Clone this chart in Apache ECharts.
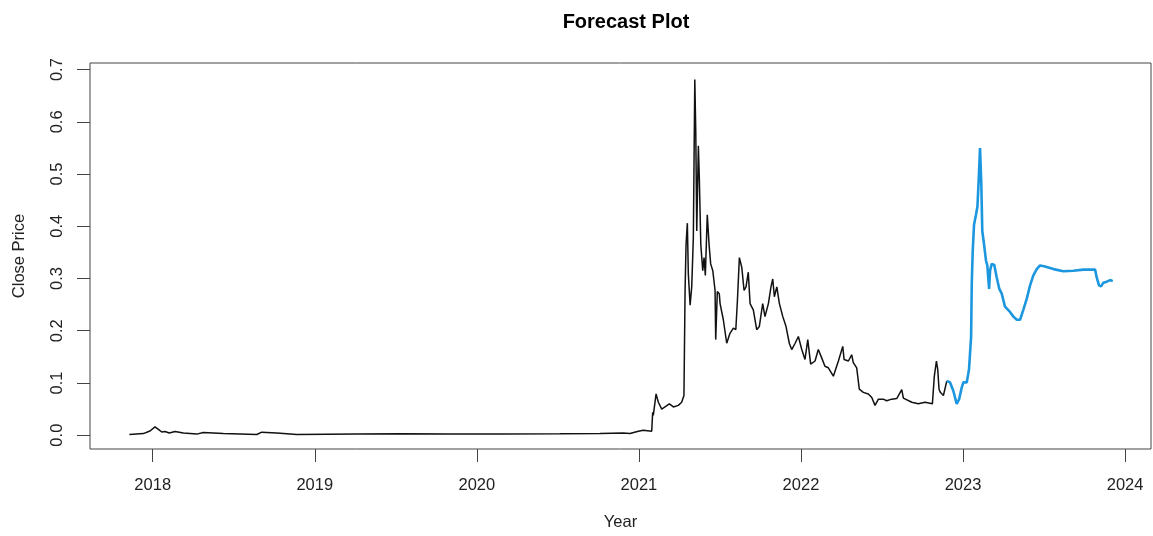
<!DOCTYPE html>
<html>
<head>
<meta charset="utf-8">
<title>Forecast Plot</title>
<script src="https://cdn.jsdelivr.net/npm/echarts@6.0.0/dist/echarts.min.js"></script>
<style>
  html, body { margin: 0; padding: 0; background: #fff; }
  #chart { width: 1153px; height: 536px; }
</style>
</head>
<body>
<div id="chart"></div>
<script>
// history (decimal year / close price)
const histYear = [
  2017.856, 2017.942, 2017.983, 2018.014, 2018.035, 2018.056, 2018.076, 2018.102, 2018.138, 2018.189,
  2018.272, 2018.312, 2018.436, 2018.642, 2018.673, 2018.765, 2018.889, 2019.259, 2019.526, 2019.835,
  2020.143, 2020.513, 2020.760, 2020.902, 2020.945, 2020.997, 2021.027, 2021.079, 2021.085, 2021.089,
  2021.106, 2021.120, 2021.141, 2021.161, 2021.188, 2021.213, 2021.243, 2021.264, 2021.278, 2021.285,
  2021.291, 2021.299, 2021.305, 2021.316, 2021.326, 2021.336, 2021.345, 2021.351, 2021.357, 2021.367,
  2021.373, 2021.382, 2021.394, 2021.402, 2021.410, 2021.422, 2021.433, 2021.443, 2021.456, 2021.470,
  2021.474, 2021.484, 2021.496, 2021.501, 2021.521, 2021.542, 2021.562, 2021.583, 2021.598, 2021.608,
  2021.620, 2021.635, 2021.649, 2021.661, 2021.675, 2021.686, 2021.706, 2021.727, 2021.743, 2021.764,
  2021.778, 2021.799, 2021.815, 2021.826, 2021.836, 2021.851, 2021.867, 2021.888, 2021.908, 2021.928,
  2021.943, 2021.964, 2021.984, 2022.005, 2022.025, 2022.042, 2022.060, 2022.087, 2022.107, 2022.128,
  2022.148, 2022.169, 2022.200, 2022.231, 2022.258, 2022.266, 2022.293, 2022.313, 2022.323, 2022.344,
  2022.360, 2022.385, 2022.416, 2022.437, 2022.457, 2022.478, 2022.508, 2022.529, 2022.560, 2022.591,
  2022.622, 2022.632, 2022.684, 2022.724, 2022.766, 2022.811, 2022.823, 2022.836, 2022.844, 2022.852,
  2022.860, 2022.879, 2022.900
];
const histClose = [
  0.0013, 0.003, 0.008, 0.016, 0.011, 0.006, 0.007, 0.0043, 0.007, 0.004,
  0.002, 0.005, 0.003, 0.0013, 0.0057, 0.0043, 0.0013, 0.002, 0.0025, 0.002,
  0.0022, 0.0025, 0.003, 0.004, 0.003, 0.0076, 0.0095, 0.0076, 0.044, 0.038,
  0.079, 0.063, 0.050, 0.054, 0.060, 0.054, 0.057, 0.063, 0.076, 0.277,
  0.365, 0.406, 0.309, 0.249, 0.284, 0.378, 0.681, 0.580, 0.391, 0.554,
  0.491, 0.365, 0.315, 0.340, 0.306, 0.422, 0.365, 0.328, 0.315, 0.277,
  0.183, 0.275, 0.271, 0.252, 0.221, 0.176, 0.195, 0.205, 0.202, 0.258,
  0.340, 0.321, 0.277, 0.284, 0.312, 0.252, 0.240, 0.202, 0.208, 0.252,
  0.227, 0.252, 0.284, 0.299, 0.265, 0.284, 0.252, 0.227, 0.208, 0.176,
  0.164, 0.176, 0.189, 0.164, 0.145, 0.183, 0.136, 0.142, 0.164, 0.148,
  0.132, 0.129, 0.113, 0.142, 0.170, 0.145, 0.142, 0.154, 0.139, 0.129,
  0.088, 0.082, 0.079, 0.072, 0.057, 0.069, 0.069, 0.066, 0.069, 0.070,
  0.087, 0.071, 0.063, 0.060, 0.063, 0.060, 0.113, 0.142, 0.126, 0.088,
  0.082, 0.076, 0.104
];

// forecast
const fcstYear = [
  2022.900, 2022.920, 2022.940, 2022.961, 2022.976, 2022.992, 2023.002, 2023.023, 2023.037, 2023.050,
  2023.054, 2023.060, 2023.068, 2023.080, 2023.089, 2023.097, 2023.105, 2023.113, 2023.119, 2023.130,
  2023.142, 2023.150, 2023.161, 2023.167, 2023.177, 2023.193, 2023.208, 2023.224, 2023.239, 2023.259,
  2023.290, 2023.311, 2023.332, 2023.352, 2023.372, 2023.393, 2023.414, 2023.434, 2023.455, 2023.475,
  2023.506, 2023.558, 2023.619, 2023.630, 2023.681, 2023.743, 2023.815, 2023.825, 2023.839, 2023.852,
  2023.866, 2023.887, 2023.908, 2023.924
];
const fcstClose = [
  0.104, 0.101, 0.085, 0.060, 0.069, 0.091, 0.101, 0.101, 0.126, 0.189,
  0.290, 0.353, 0.403, 0.422, 0.438, 0.491, 0.550, 0.479, 0.391, 0.365,
  0.334, 0.325, 0.280, 0.315, 0.328, 0.326, 0.302, 0.280, 0.271, 0.246,
  0.236, 0.227, 0.221, 0.221, 0.240, 0.261, 0.287, 0.306, 0.318, 0.325,
  0.323, 0.318, 0.314, 0.312, 0.315, 0.317, 0.317, 0.302, 0.287, 0.285,
  0.292, 0.294, 0.297, 0.295
];

// tick labels
const yearTicks = [2018, 2019, 2020, 2021, 2022, 2023, 2024];
const priceTicks = [0, 0.1, 0.2, 0.3, 0.4, 0.5, 0.6, 0.7];

const zip = (xs, ys) => xs.map((x, i) => [x, ys[i]]);

const chart = echarts.init(document.getElementById('chart'), null, { renderer: 'canvas' });

const font = '"Liberation Sans", Arial, sans-serif';

chart.setOption({
  animation: false,
  backgroundColor: '#fff',
  title: {
    text: 'Forecast Plot',
    left: 621,
    top: 7,
    textAlign: 'center',
    textStyle: { fontFamily: font, fontSize: 20, fontWeight: 'bold', color: '#000' }
  },
  grid: {
    left: 90,
    right: 2,
    top: 63,
    bottom: 82,
    show: true,
    borderColor: '#444',
    borderWidth: 1
  },
  xAxis: {
    type: 'value',
    min: 2017.613,
    max: 2024.16,
    name: 'Year',
    nameLocation: 'middle',
    nameGap: 65,
    nameTextStyle: { fontFamily: font, fontSize: 16.5, color: '#222' },
    axisLine: { show: false, onZero: false },
    splitLine: { show: false },
    axisTick: { show: true, inside: false, length: 13, customValues: yearTicks, lineStyle: { color: '#444' } },
    axisLabel: {
      customValues: yearTicks,
      margin: 28,
      fontFamily: font,
      fontSize: 16.5,
      color: '#222',
      formatter: v => String(Math.round(v))
    }
  },
  yAxis: {
    type: 'value',
    min: -0.0265,
    max: 0.7127,
    name: 'Close Price',
    nameLocation: 'middle',
    nameGap: 62,
    nameTextStyle: { fontFamily: font, fontSize: 16.5, color: '#222' },
    axisLine: { show: false, onZero: false },
    splitLine: { show: false },
    axisTick: { show: true, inside: false, length: 13, customValues: priceTicks, lineStyle: { color: '#444' } },
    axisLabel: {
      customValues: priceTicks,
      rotate: 90,
      margin: 24,
      fontFamily: font,
      fontSize: 16.5,
      color: '#222',
      formatter: v => v.toFixed(1)
    }
  },
  series: [
    {
      name: 'history',
      type: 'line',
      data: zip(histYear, histClose),
      showSymbol: false,
      lineStyle: { color: '#111', width: 1.5 },
      z: 2
    },
    {
      name: 'forecast',
      type: 'line',
      data: zip(fcstYear, fcstClose),
      showSymbol: false,
      lineStyle: { color: '#1c97df', width: 2.6 },
      z: 3
    }
  ]
});
</script>
</body>
</html>
